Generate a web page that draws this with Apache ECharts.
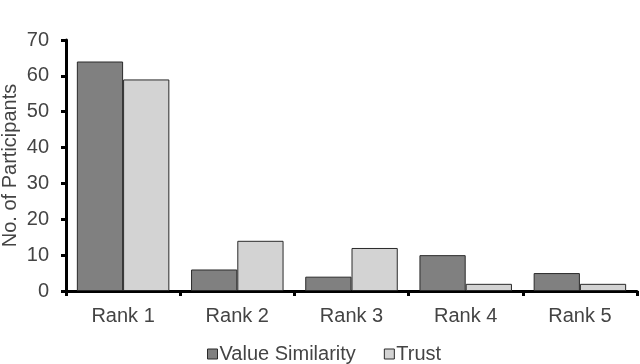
<!DOCTYPE html>
<html>
<head>
<meta charset="utf-8">
<script src="https://cdn.jsdelivr.net/npm/echarts@6/dist/echarts.min.js"></script>
<style>
  html, body { margin: 0; padding: 0; background: #fff; }
  #chart { width: 640px; height: 364px; }
</style>
</head>
<body>
<div id="chart"></div>
<script>
const categories = ['Rank 1', 'Rank 2', 'Rank 3', 'Rank 4', 'Rank 5']
const valueSimilarity = [64, 6, 4, 10, 5]
const trust = [59, 14, 12, 2, 2]
const yTicks = { min: 0, max: 70, interval: 10 }

const textColor = '#444'
const font = 'Liberation Sans, Arial, sans-serif'

const chart = echarts.init(document.getElementById('chart'), null, { renderer: 'canvas' })
chart.setOption({
  animation: false,
  textStyle: { fontFamily: font },
  grid: { left: 66, right: 3, top: 40, bottom: 73, containLabel: false, outerBoundsMode: 'none' },
  legend: {
    left: 202,
    top: 339,
    itemWidth: 10,
    itemHeight: 10,
    itemGap: 28,
    icon: 'rect',
    itemStyle: { borderColor: '#2a2a2a', borderWidth: 1 },
    textStyle: { fontSize: 20, color: textColor, fontFamily: font, padding: [0, 0, 0, -3] },
    data: ['Value Similarity', 'Trust']
  },
  xAxis: {
    type: 'category',
    data: categories,
    axisLine: { lineStyle: { color: '#000', width: 3 } },
    axisTick: { show: true, length: 5, lineStyle: { color: '#000', width: 3 } },
    axisLabel: { fontSize: 20, color: textColor, margin: 15, fontFamily: font }
  },
  yAxis: {
    type: 'value',
    min: yTicks.min,
    max: yTicks.max,
    interval: yTicks.interval,
    name: 'No. of Participants',
    nameLocation: 'middle',
    nameGap: 46,
    nameMoveOverlap: false,
    nameTextStyle: { fontSize: 20, color: textColor, fontFamily: font },
    splitLine: { show: false },
    axisLine: { show: true, lineStyle: { color: '#000', width: 3 } },
    axisTick: { show: true, length: 5, lineStyle: { color: '#000', width: 3 } },
    axisLabel: { fontSize: 20, color: textColor, margin: 17, fontFamily: font }
  },
  series: [
    {
      name: 'Value Similarity',
      type: 'bar',
      data: valueSimilarity,
      barGap: '0%',
      barCategoryGap: '19%',
      itemStyle: { color: '#808080', borderColor: '#2a2a2a', borderWidth: 1 }
    },
    {
      name: 'Trust',
      type: 'bar',
      data: trust,
      itemStyle: { color: '#d3d3d3', borderColor: '#2a2a2a', borderWidth: 1 }
    }
  ]
})
</script>
</body>
</html>
